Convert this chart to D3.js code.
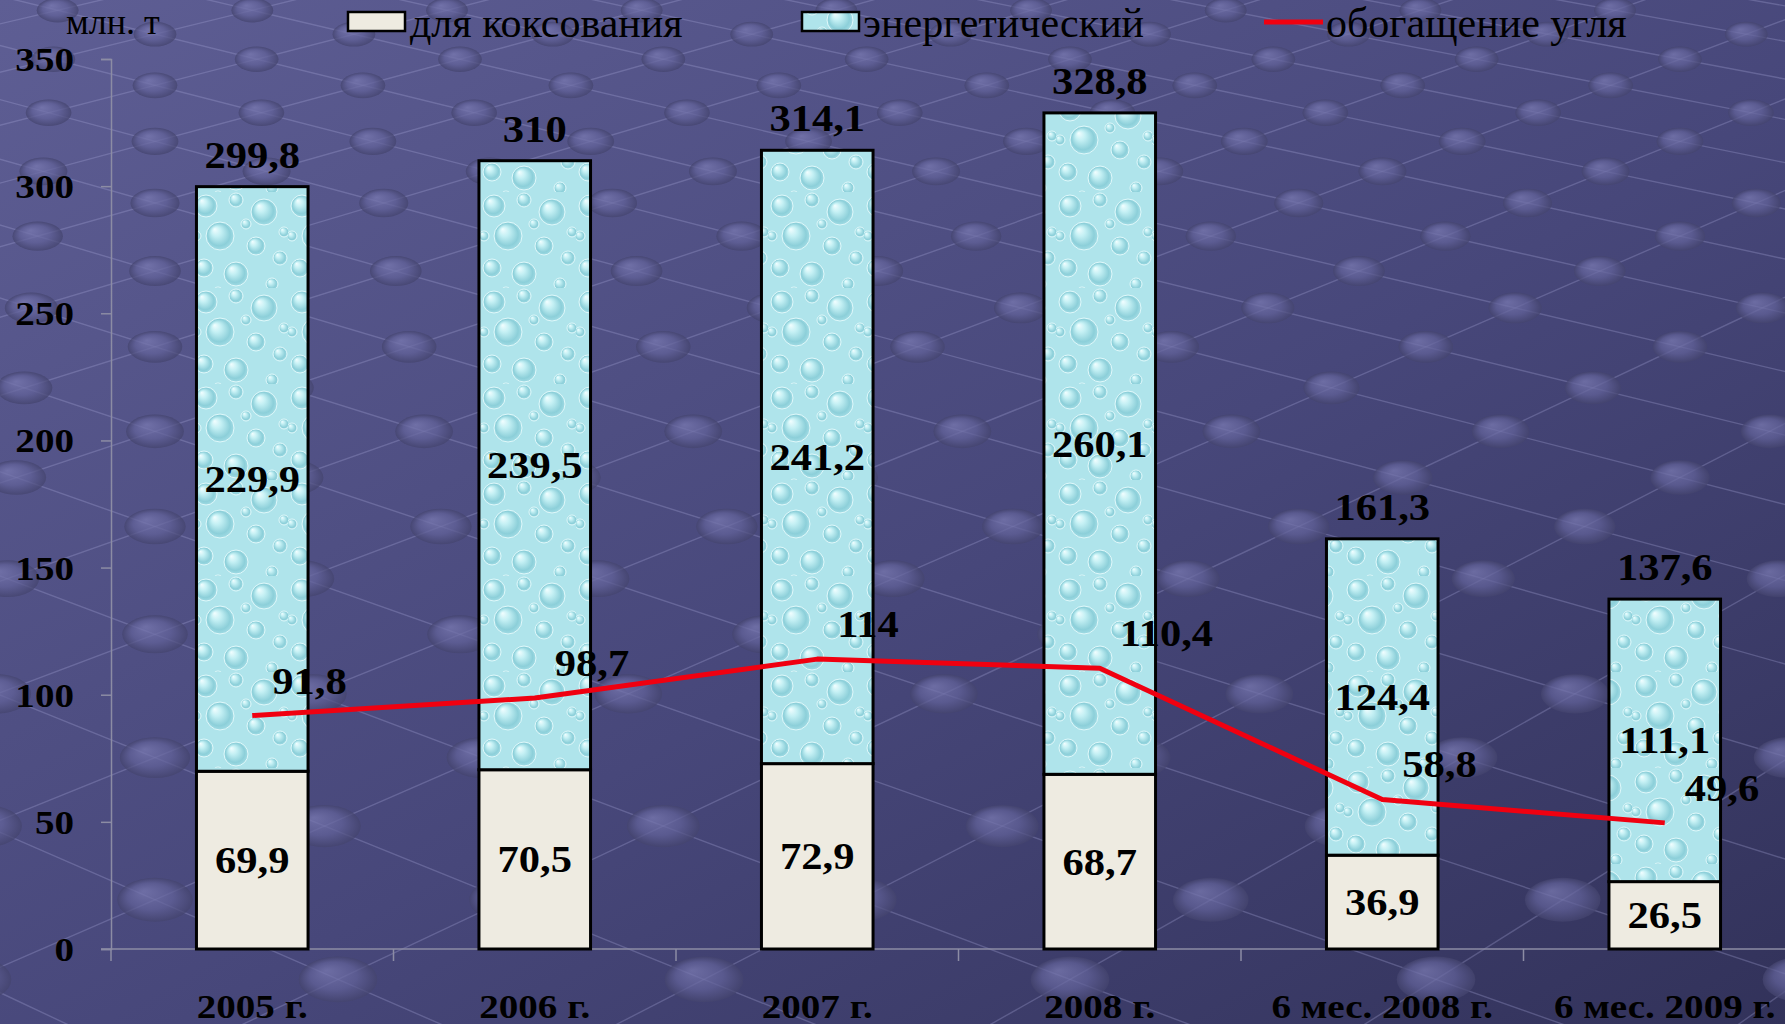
<!DOCTYPE html>
<html>
<head>
<meta charset="utf-8">
<script src="https://cdn.jsdelivr.net/npm/d3@7"></script>
<style>
  html, body { margin: 0; padding: 0; overflow: hidden; background: #48487a; }
  svg text { font-family: "Liberation Serif", "Times New Roman", serif; }
</style>
</head>
<body>
<div class="container"></div>
<script>
// данные
const categories = ["2005 г.", "2006 г.", "2007 г.", "2008 г.", "6 мес. 2008 г.", "6 мес. 2009 г."];
const coking = [69.9, 70.5, 72.9, 68.7, 36.9, 26.5];
const energy = [229.9, 239.5, 241.2, 260.1, 124.4, 111.1];
const totals = [299.8, 310, 314.1, 328.8, 161.3, 137.6];
const enrichment = [91.8, 98.7, 114, 110.4, 58.8, 49.6];
const yTicks = [0, 50, 100, 150, 200, 250, 300, 350];
const legendNames = ["для коксования", "энергетический", "обогащение угля"];
const unitLabel = "млн. т";

const W = 1785, H = 1024;
const fmt = v => String(v).replace(".", ",");
const STRETCH = 1.15;

const svg = d3.select(".container")
    .append("svg")
    .attr("width", W)
    .attr("height", H)
    .attr("viewBox", [0, 0, W, H]);

const defs = svg.append("defs");

// фон
const bg = defs.append("linearGradient").attr("id", "bgGrad")
    .attr("x1", 0).attr("y1", 0).attr("x2", 1).attr("y2", 1);
bg.append("stop").attr("offset", "0%").attr("stop-color", "#5e5e94");
bg.append("stop").attr("offset", "55%").attr("stop-color", "#47477a");
bg.append("stop").attr("offset", "100%").attr("stop-color", "#32325a");

const dot = defs.append("radialGradient").attr("id", "dotGrad")
    .attr("fx", "35%").attr("fy", "30%");
dot.append("stop").attr("offset", "0%").attr("stop-color", "#7a7ab2");
dot.append("stop").attr("offset", "60%").attr("stop-color", "#616198");
dot.append("stop").attr("offset", "100%").attr("stop-color", "#44446e");

// капли для энергетического угля
const drop = defs.append("radialGradient").attr("id", "dropGrad")
    .attr("fx", "30%").attr("fy", "25%");
drop.append("stop").attr("offset", "0%").attr("stop-color", "#f2feff");
drop.append("stop").attr("offset", "35%").attr("stop-color", "#c4f0f4");
drop.append("stop").attr("offset", "80%").attr("stop-color", "#8ccfd9");
drop.append("stop").attr("offset", "100%").attr("stop-color", "#a2dce5");

const pat = defs.append("pattern").attr("id", "water")
    .attr("patternUnits", "userSpaceOnUse")
    .attr("width", 96).attr("height", 96);
pat.append("rect").attr("width", 96).attr("height", 96).attr("fill", "#afe4eb");
const drops = [[14, 14, 11], [44, 8, 7], [72, 20, 13], [28, 44, 14], [64, 54, 9], [88, 66, 7],
    [12, 76, 9], [44, 82, 12], [80, 92, 6], [4, 44, 5], [54, 32, 5], [92, 40, 5], [26, 100, 5]];
pat.selectAll("circle").data(drops).join("circle")
    .attr("cx", d => d[0]).attr("cy", d => d[1]).attr("r", d => d[2])
    .attr("fill", "url(#dropGrad)")
    .attr("stroke", "#dff8fa").attr("stroke-width", 1);

svg.append("rect").attr("width", W).attr("height", H).attr("fill", "url(#bgGrad)");

// перспективная сетка фона
const hy = -1091, k = 4575, cx0 = 155, s = 0.125, c45 = Math.SQRT1_2;
const proj = (X, Z) => [cx0 + k * X / Z, hy + k / Z];
const deco = svg.append("g").attr("class", "deco");
const gridLines = [];
for (let i = -80; i <= 80; i++) {
    for (const fam of [1, -1]) {
        const a = [];
        [1.7, 4.8].forEach(Z => {
            const t = Z / (s * c45) - i;
            const X = fam * s * c45 * (i - t);
            a.push(proj(X, Z));
        });
        gridLines.push(a);
    }
}
deco.selectAll("line").data(gridLines).join("line")
    .attr("x1", d => d[0][0]).attr("y1", d => d[0][1])
    .attr("x2", d => d[1][0]).attr("y2", d => d[1][1])
    .attr("stroke", "#a8a8dc").attr("stroke-opacity", 0.3).attr("stroke-width", 1.4);
const dots = [];
for (let i = -80; i <= 80; i++) {
    for (let j = -80; j <= 80; j++) {
        const Z = s * c45 * (i + j);
        if (Z < 1.7 || Z > 4.8) continue;
        const X = s * c45 * (i - j);
        const p = proj(X, Z);
        if (p[0] < -60 || p[0] > W + 60 || p[1] < -40 || p[1] > H + 40) continue;
        dots.push([p[0], p[1], k * 0.019 / Z]);
    }
}
deco.selectAll("ellipse").data(dots).join("ellipse")
    .attr("cx", d => d[0]).attr("cy", d => d[1])
    .attr("rx", d => d[2]).attr("ry", d => d[2] * 0.58)
    .attr("fill", "url(#dotGrad)").attr("opacity", 0.75);

// шкалы
const x = d3.scaleBand().domain(categories)
    .range([111, 111 + 6 * 282.5]).paddingInner(0.605).paddingOuter(0.3025);
const y = d3.scaleLinear().domain([0, 350]).range([949, 59]);
const cxOf = c => x(c) + x.bandwidth() / 2;

// оси
const yAxis = svg.append("g").attr("transform", `translate(${x.range()[0]},0)`)
    .call(d3.axisLeft(y).tickValues(yTicks).tickSize(10).tickPadding(0).tickFormat(""));
yAxis.selectAll("path, line").attr("stroke", "#8c8ca4").attr("stroke-width", 1.5);

const xAxis = svg.append("g").attr("transform", `translate(0,${y(0)})`);
xAxis.append("line").attr("x1", x.range()[0] - 10).attr("x2", W)
    .attr("stroke", "#8c8ca4").attr("stroke-width", 1.5);
xAxis.selectAll(".tk").data(d3.range(categories.length + 1)).join("line")
    .attr("class", "tk")
    .attr("x1", i => x.range()[0] + i * x.step()).attr("x2", i => x.range()[0] + i * x.step())
    .attr("y1", 0).attr("y2", 12)
    .attr("stroke", "#8c8ca4").attr("stroke-width", 1.5);

// растянутый жирный текст
function boldText(g, data, fx, fy, txt, anchor, size) {
    return g.selectAll(null).data(data).join("text")
        .attr("transform", (d, i) => `translate(${fx(d, i)},${fy(d, i)}) scale(${STRETCH},1)`)
        .attr("text-anchor", anchor || "middle")
        .attr("font-size", size || 34).attr("font-weight", "bold").attr("fill", "#000")
        .text(txt);
}

boldText(svg.append("g"), yTicks, () => 74, d => y(d) + 12, d => d, "end");
boldText(svg.append("g"), categories, d => cxOf(d), () => 1018, d => d);

// столбцы
const bars = svg.append("g");
bars.selectAll(".cok").data(categories).join("rect")
    .attr("class", "cok")
    .attr("x", d => x(d)).attr("width", x.bandwidth())
    .attr("y", (d, i) => y(coking[i]))
    .attr("height", (d, i) => y(0) - y(coking[i]))
    .attr("fill", "#eeebe1").attr("stroke", "#000").attr("stroke-width", 3);
bars.selectAll(".en").data(categories).join("rect")
    .attr("class", "en")
    .attr("x", d => x(d)).attr("width", x.bandwidth())
    .attr("y", (d, i) => y(coking[i] + energy[i]))
    .attr("height", (d, i) => y(coking[i]) - y(coking[i] + energy[i]))
    .attr("fill", "url(#water)").attr("stroke", "#000").attr("stroke-width", 3);

const labels = svg.append("g");
boldText(labels, categories, d => cxOf(d), (d, i) => (y(0) + y(coking[i])) / 2 + 13, (d, i) => fmt(coking[i]), "middle", 37);
boldText(labels, categories, d => cxOf(d), (d, i) => (y(coking[i]) + y(coking[i] + energy[i])) / 2 + 13, (d, i) => fmt(energy[i]), "middle", 37);
boldText(labels, categories, d => cxOf(d), (d, i) => y(totals[i]) - 19, (d, i) => fmt(totals[i]), "middle", 37);

// линия обогащения
const line = d3.line().x((d, i) => cxOf(categories[i])).y(d => y(d));
svg.append("path").datum(enrichment)
    .attr("d", line)
    .attr("fill", "none").attr("stroke", "#f00010").attr("stroke-width", 5)
    .attr("stroke-linejoin", "round");
boldText(svg.append("g"), enrichment, (d, i) => cxOf(categories[i]) + 20, d => y(d) - 22, d => fmt(d), "start", 37);

// легенда
const legend = svg.append("g").attr("font-size", 42).attr("fill", "#000");
legend.append("text").attr("x", 66).attr("y", 34).attr("font-size", 36).text(unitLabel);
legend.append("rect").attr("x", 348).attr("y", 12).attr("width", 57).attr("height", 19)
    .attr("fill", "#eeebe1").attr("stroke", "#000").attr("stroke-width", 2.5);
legend.append("text").attr("x", 410).attr("y", 37).text(legendNames[0]);
legend.append("rect").attr("x", 802).attr("y", 12).attr("width", 57).attr("height", 19)
    .attr("fill", "url(#water)").attr("stroke", "#000").attr("stroke-width", 2.5);
legend.append("text").attr("x", 863).attr("y", 37).text(legendNames[1]);
legend.append("line").attr("x1", 1264).attr("x2", 1323).attr("y1", 22).attr("y2", 22)
    .attr("stroke", "#f00010").attr("stroke-width", 5);
legend.append("text").attr("x", 1326).attr("y", 37).text(legendNames[2]);
</script>
</body>
</html>
